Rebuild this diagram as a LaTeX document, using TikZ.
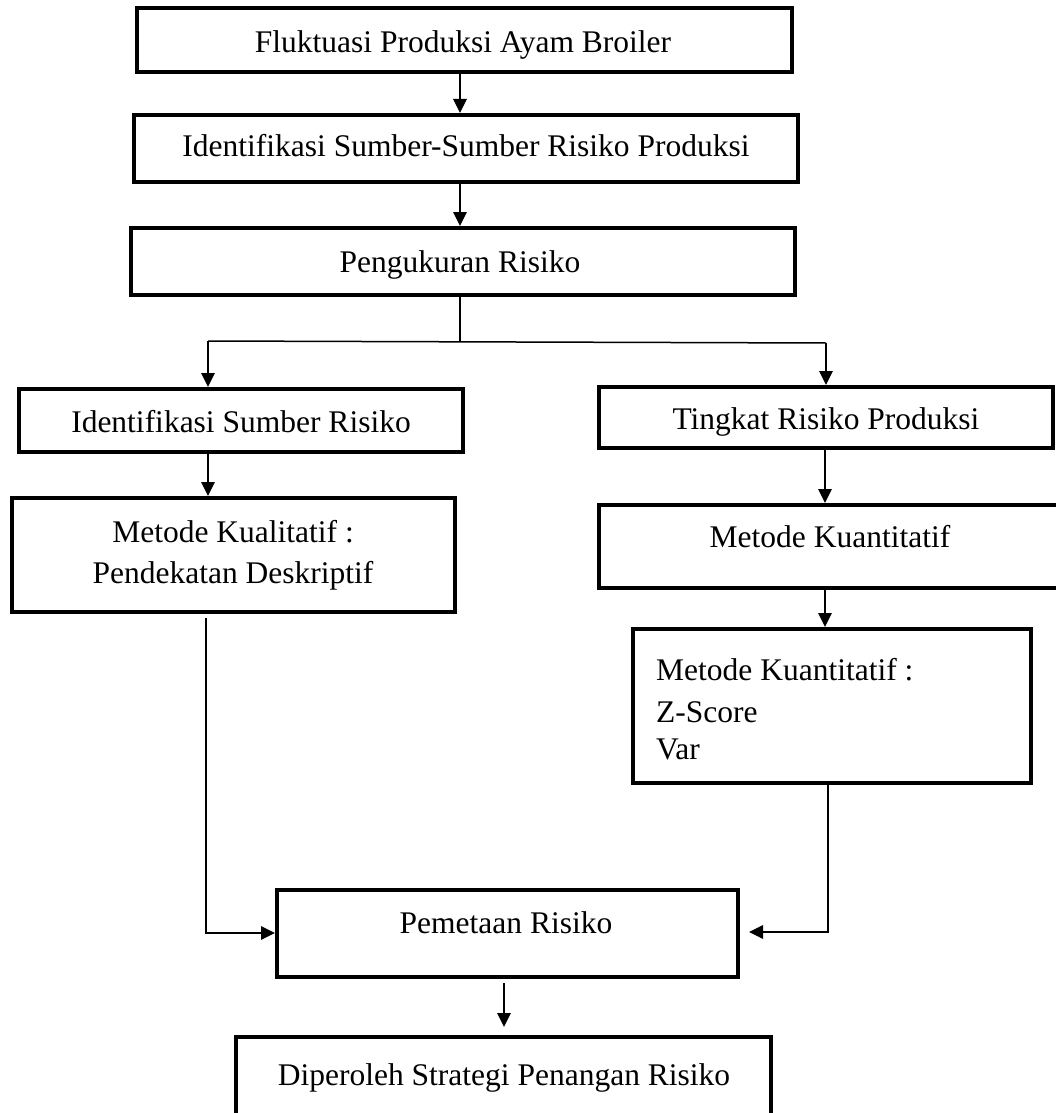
\documentclass[tikz,border=0pt]{standalone}
\usepackage{fontspec}
\setmainfont{Liberation Serif}
\usetikzlibrary{arrows.meta}
\begin{document}
\begin{tikzpicture}[x=1pt,y=-1pt,
  box/.style={draw=black,line width=4pt,rectangle,inner sep=0pt,minimum width=#1},
  txt/.style={font=\fontsize{31.5pt}{42pt}\selectfont,inner sep=0pt,anchor=base},
  txtl/.style={font=\fontsize{31.5pt}{42pt}\selectfont,inner sep=0pt,anchor=base west},
  con/.style={line width=1.5pt},
  arr/.style={line width=1.5pt,-{Triangle[length=14pt,width=13.5pt]}}]
\useasboundingbox (0,0) rectangle (1055,1113);
% boxes
\node[box=655pt,minimum height=64pt] (b1) at (464.5,40) {};
\node[box=664pt,minimum height=67pt] (b2) at (466,148.5) {};
\node[box=664pt,minimum height=67pt] (b3) at (463,261.5) {};
\node[box=444pt,minimum height=63pt] (b4) at (241,420.5) {};
\node[box=454pt,minimum height=61pt] (b5) at (826,417.5) {};
\node[box=443pt,minimum height=114pt] (b6) at (233.5,555) {};
\node[box=462pt,minimum height=83pt] (b7) at (830,546.5) {};
\node[box=398pt,minimum height=154pt] (b8) at (832,706) {};
\node[box=461pt,minimum height=87pt] (b9) at (507.5,933.5) {};
\node[box=535pt,minimum height=80pt] (b10) at (503.5,1077) {};
% texts
\node[txt] (t1) at (463,53) {Fluktuasi Produksi Ayam Broiler};
\node[txt] (t2) at (466,157) {Identifikasi Sumber-Sumber Risiko Produksi};
\node[txt] (t3) at (460,272) {Pengukuran Risiko};
\node[txt] (t4) at (241,432) {Identifikasi Sumber Risiko};
\node[txt] (t5) at (826,429) {Tingkat Risiko Produksi};
\node[txt] (t6a) at (233,542) {Metode Kualitatif :};
\node[txt] (t6b) at (233,583) {Pendekatan Deskriptif};
\node[txt] (t7) at (830,547) {Metode Kuantitatif};
\node[txtl] (t8a) at (656,680) {Metode Kuantitatif :};
\node[txtl] (t8b) at (656,722) {Z-Score};
\node[txtl] (t8c) at (656,759) {Var};
\node[txt] (t9) at (506,933) {Pemetaan Risiko};
\node[txt] (t10) at (504,1085) {Diperoleh Strategi Penangan Risiko};
% helper coordinates
\coordinate (xm) at (460,0);
\coordinate (jm) at (460,342);
\coordinate (jl) at (208,341);
\coordinate (jr) at (826,343);
\coordinate (xr) at (825,0);
\coordinate (ls) at (206,618);
\coordinate (ll) at (206,933);
\coordinate (rl) at (828,932);
\coordinate (re) at (749,932);
\coordinate (a7s) at (504,983);
\coordinate (a7e) at (504,1027);
% connectors
\draw[arr] (b1.south -| xm) -- (b2.north -| xm);
\draw[arr] (b2.south -| xm) -- (b3.north -| xm);
\draw[con] (b3.south -| xm) -- (jm);
\draw[con] (jl) -- (jr);
\draw[arr] (jl) -- (jl |- b4.north);
\draw[arr] (jr) -- (jr |- b5.north);
\draw[arr] (b4.south -| jl) -- (b6.north -| jl);
\draw[arr] (b5.south -| xr) -- (b7.north -| xr);
\draw[arr] (b7.south -| xr) -- (b8.north -| xr);
\draw[arr] (ls) -- (ll) -- (ll -| b9.west);
\draw[arr] (b8.south -| rl) -- (rl) -- (re);
\draw[arr] (a7s) -- (a7e);
\end{tikzpicture}
\end{document}
